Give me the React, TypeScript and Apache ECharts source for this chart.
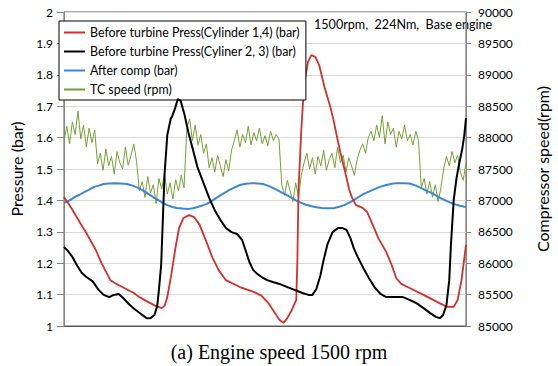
import React, { useEffect, useRef } from "react";
import * as echarts from "echarts";

// Crank angle (deg) vs. pressure (bar)
const cyl14: [number, number][] = [
  [0, 1.411], [12, 1.379], [29, 1.328], [40, 1.296], [57, 1.242], [67, 1.201], [83, 1.146], [91, 1.137],
  [108, 1.121], [125, 1.105], [135, 1.092], [147, 1.08], [164, 1.064], [175, 1.057], [180, 1.064], [185, 1.092],
  [192, 1.162], [199, 1.242], [206, 1.312], [214, 1.344], [224, 1.353], [233, 1.347], [243, 1.322], [256, 1.264],
  [266, 1.217], [277, 1.178], [290, 1.146], [315, 1.124], [341, 1.108], [354, 1.096], [366, 1.073], [378, 1.041],
  [386, 1.019], [393, 1.01], [400, 1.025], [408, 1.051], [416, 1.083], [418, 1.21], [420, 1.433], [425, 1.624],
  [430, 1.768], [437, 1.841], [443, 1.863], [450, 1.857], [457, 1.831], [467, 1.758], [476, 1.704], [482, 1.662],
  [489, 1.602], [496, 1.545], [504, 1.487], [511, 1.433], [516, 1.408], [523, 1.385], [535, 1.376], [543, 1.363],
  [553, 1.322], [563, 1.28], [577, 1.236], [587, 1.194], [595, 1.153], [604, 1.134], [619, 1.121], [644, 1.099],
  [669, 1.076], [686, 1.061], [698, 1.061], [705, 1.083], [712, 1.146], [717, 1.217], [720, 1.258],
];

const cyl23: [number, number][] = [
  [0, 1.252], [7, 1.239], [15, 1.22], [24, 1.191], [32, 1.169], [40, 1.156], [51, 1.143], [62, 1.115],
  [71, 1.099], [81, 1.092], [89, 1.099], [98, 1.102], [106, 1.089], [116, 1.07], [126, 1.054], [138, 1.038],
  [148, 1.025], [155, 1.025], [162, 1.035], [167, 1.064], [170, 1.115], [174, 1.194], [177, 1.338], [180, 1.481],
  [185, 1.608], [191, 1.659], [194, 1.669], [199, 1.694], [204, 1.723], [209, 1.717], [216, 1.672], [223, 1.615],
  [231, 1.561], [239, 1.506], [250, 1.455], [260, 1.408], [270, 1.369], [280, 1.338], [290, 1.312], [300, 1.299],
  [310, 1.293], [319, 1.274], [325, 1.242], [332, 1.204], [339, 1.178], [346, 1.166], [354, 1.156], [364, 1.146],
  [374, 1.14], [386, 1.134], [400, 1.124], [413, 1.115], [427, 1.105], [438, 1.099], [445, 1.099], [452, 1.118],
  [459, 1.159], [465, 1.21], [472, 1.261], [481, 1.299], [491, 1.312], [499, 1.312], [506, 1.306], [513, 1.28],
  [519, 1.248], [526, 1.22], [536, 1.185], [546, 1.153], [556, 1.124], [567, 1.102], [577, 1.092], [594, 1.092],
  [607, 1.092], [619, 1.083], [631, 1.073], [644, 1.057], [656, 1.041], [666, 1.029], [673, 1.025], [679, 1.035],
  [685, 1.067], [690, 1.146], [693, 1.258], [698, 1.401], [703, 1.471], [708, 1.519], [713, 1.561], [717, 1.608],
  [720, 1.662],
];

const afterComp: [number, number][] = [
  [0, 1.392], [10, 1.4], [20, 1.411], [28, 1.418], [37, 1.427], [45, 1.434], [54, 1.443], [62, 1.447], [71, 1.452],
  [81, 1.454], [91, 1.455], [102, 1.454], [113, 1.452], [123, 1.447], [133, 1.44], [142, 1.431], [152, 1.42],
  [160, 1.41], [169, 1.401], [177, 1.392], [185, 1.385], [194, 1.379], [202, 1.376], [212, 1.374], [223, 1.373],
  [231, 1.375], [239, 1.379], [248, 1.384], [256, 1.389], [264, 1.398], [273, 1.408], [283, 1.419], [293, 1.43],
  [304, 1.44], [315, 1.449], [326, 1.453], [337, 1.455], [347, 1.454], [357, 1.452], [365, 1.447], [374, 1.44],
  [383, 1.432], [391, 1.424], [400, 1.416], [408, 1.408], [416, 1.399], [425, 1.392], [433, 1.386], [442, 1.382],
  [452, 1.378], [462, 1.376], [473, 1.375], [484, 1.376], [493, 1.38], [502, 1.385], [510, 1.392], [519, 1.401],
  [527, 1.41], [536, 1.42], [546, 1.428], [556, 1.436], [566, 1.443], [577, 1.449], [587, 1.453], [597, 1.455],
  [608, 1.455], [619, 1.454], [629, 1.448], [639, 1.44], [648, 1.432], [658, 1.424], [668, 1.414], [678, 1.404],
  [688, 1.396], [698, 1.389], [709, 1.383], [720, 1.379],
];

// TC speed (rpm), one reading every 5 deg crank angle, 0..720
const tcStep = 5;
const tcSpeed: number[] = [
  87950, 88180, 87900, 88250, 88050, 88420, 87980, 88200, 87850, 88150, 87920, 88120,
  87580, 87750, 87480, 87820, 87550, 87700, 87420, 87780, 87600, 87500, 87850, 87560, 87720, 87900, 87620,
  87150, 87300, 87050, 87380, 87120, 87250, 86950, 87350, 87180, 87420, 87100, 87280, 87020, 87330, 87150, 87400, 87200,
  88150, 88300, 87950, 88200, 87880, 88050, 87750, 87900,
  87520, 87680, 87450, 87720, 87550, 87380, 87650, 87470, 87800,
  87950, 88120, 87850, 88050, 87920, 88180, 87880, 88080, 87950, 88150, 87900, 88030, 87870, 88100, 87950, 88050, 87980,
  87250, 87080, 87320, 87150, 86980, 87280, 87050, 87400,
  87600, 87750, 87500, 87680, 87420, 87700, 87550, 87800, 87480, 87650, 87750, 87520, 87850, 87600, 87720, 87450,
  87680, 87550, 87400, 87650, 87800, 87900, 87750, 88000,
  88100, 87950, 88200, 88000, 88350, 87900, 88250, 88050, 88150, 87850, 88100, 87980, 88200, 87950, 88050, 87880, 88100, 87950,
  87200, 87350, 87100, 87300, 87050, 87250, 86980, 87200,
  87500, 87700, 87550, 87780, 87600, 87720, 87450, 87320, 87600,
];

const seriesNames = [
  "Before turbine Press(Cylinder 1,4) (bar)",
  "Before turbine Press(Cyliner 2, 3) (bar)",
  "After comp (bar)",
  "TC speed (rpm)",
];
const colors = ["#d0312d", "#000000", "#3d85d8", "#76a035"];

const FONT = "Lato, 'Noto Sans', sans-serif";

export default function App() {
  const ref = useRef<HTMLDivElement>(null);
  useEffect(() => {
    document.body.style.margin = "0";
    if (!ref.current) return;
    const chart = echarts.init(ref.current, null, { renderer: "svg" });
    const tcData = tcSpeed.map((v, i) => [i * tcStep, v]);
    chart.setOption({
      animation: false,
      textStyle: { fontFamily: FONT },
      grid: {
        left: 58, right: 73, top: 12, bottom: 40,
        show: true, borderColor: "#595959", borderWidth: 1,
      },
      legend: {
        orient: "vertical",
        left: 59, top: 21,
        padding: [4, 6, 3, 5],
        itemGap: 4,
        itemWidth: 21,
        itemHeight: 2,
        icon: "rect",
        backgroundColor: "#ffffff",
        borderColor: "#000000",
        borderWidth: 1,
        borderRadius: 0,
        textStyle: { fontSize: 12.4, lineHeight: 15, color: "#000", fontFamily: FONT },
        data: seriesNames,
      },
      xAxis: {
        type: "value", min: 0, max: 720,
        axisLine: { show: true, lineStyle: { color: "#595959" } },
        axisTick: { show: false }, axisLabel: { show: false }, splitLine: { show: false },
      },
      yAxis: [
        {
          type: "value", min: 1, max: 2, interval: 0.1,
          name: "Pressure (bar)", nameLocation: "middle", nameGap: 40,
          nameTextStyle: { fontSize: 16, color: "#000", fontFamily: FONT },
          axisLine: { show: true, lineStyle: { color: "#868686" } },
          axisTick: { show: true, length: 7, lineStyle: { color: "#868686" } },
          axisLabel: {
            margin: 11, fontSize: 12, color: "#000", fontFamily: FONT,
            formatter: (v: number) => String(Math.round(v * 10) / 10),
          },
          splitLine: { show: true, lineStyle: { color: "#d9d9d9" } },
        },
        {
          type: "value", min: 85000, max: 90000, interval: 500, position: "right",
          name: "Compressor speed(rpm)", nameLocation: "middle", nameGap: 68,
          nameTextStyle: { fontSize: 16, color: "#000", fontFamily: FONT },
          axisLine: { show: true, lineStyle: { color: "#868686" } },
          axisTick: { show: true, length: 5, lineStyle: { color: "#868686" } },
          axisLabel: {
            margin: 12, fontSize: 12, color: "#000", fontFamily: FONT,
            formatter: (v: number) => String(v),
          },
          splitLine: { show: false },
        },
      ],
      graphic: [
        {
          type: "text", left: 314, top: 18,
          style: { text: "1500rpm,  224Nm,  Base engine", fontSize: 12.6, fill: "#000", fontFamily: FONT },
        },
        {
          type: "text", left: "center", top: 342,
          style: {
            text: "(a) Engine speed 1500 rpm", fontSize: 20, fill: "#000",
            fontFamily: "'Liberation Serif', 'DejaVu Serif', serif",
          },
        },
      ],
      series: [
        { name: seriesNames[0], type: "line", data: cyl14, symbol: "none", yAxisIndex: 0, z: 3,
          lineStyle: { color: colors[0], width: 1.8 }, itemStyle: { color: colors[0] } },
        { name: seriesNames[1], type: "line", data: cyl23, symbol: "none", yAxisIndex: 0, z: 4,
          lineStyle: { color: colors[1], width: 2 }, itemStyle: { color: colors[1] } },
        { name: seriesNames[2], type: "line", data: afterComp, symbol: "none", yAxisIndex: 0, z: 2,
          lineStyle: { color: colors[2], width: 2 }, itemStyle: { color: colors[2] } },
        { name: seriesNames[3], type: "line", data: tcData, symbol: "none", yAxisIndex: 1, z: 1,
          lineStyle: { color: colors[3], width: 1 }, itemStyle: { color: colors[3] } },
      ],
    });
    return () => chart.dispose();
  }, []);
  return <div ref={ref} style={{ width: 558, height: 366 }} />;
}
